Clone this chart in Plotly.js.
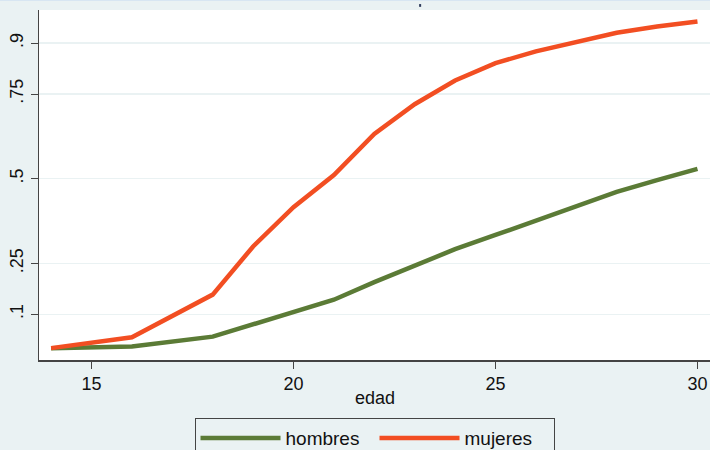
<!DOCTYPE html>
<html>
<head>
<meta charset="utf-8">
<script src="https://cdn.plot.ly/plotly-3.0.1.min.js"></script>
<style>
  html, body { margin: 0; padding: 0; background: #EAF2F3; }
  #chart { width: 710px; height: 450px; }
</style>
</head>
<body>
<div id="chart"></div>
<script>
// Data
const edad = [14, 16, 18, 19, 20, 21, 22, 23, 24, 25, 26, 27, 28, 29, 30];
const hombres = [0.0, 0.005, 0.034, 0.07, 0.104, 0.143, 0.195, 0.245, 0.292, 0.334, 0.377, 0.419, 0.461, 0.496, 0.529];
const mujeres = [0.0, 0.032, 0.158, 0.30, 0.416, 0.511, 0.632, 0.72, 0.79, 0.841, 0.876, 0.905, 0.931, 0.949, 0.964];
const seriesNames = ['hombres', 'mujeres'];
const yTickVals = [0.1, 0.25, 0.5, 0.75, 0.9];
const yTickText = ['.1', '.25', '.5', '.75', '.9'];
const xTickVals = [15, 20, 25, 30];
const xTitle = 'edad';

const FONT = 'Liberation Sans, Arial, Helvetica, sans-serif';

const traces = [
  {
    x: edad, y: hombres, name: seriesNames[0], type: 'scatter', mode: 'lines',
    line: { color: '#5B7B36', width: 4.5 }
  },
  {
    x: edad, y: mujeres, name: seriesNames[1], type: 'scatter', mode: 'lines',
    line: { color: '#F24E22', width: 4.5 }
  }
];

const layout = {
  width: 710, height: 450,
  margin: { l: 39, r: 0, t: 10, b: 90, pad: 0, autoexpand: false },
  paper_bgcolor: '#EAF2F3',
  plot_bgcolor: '#FFFFFF',
  font: { family: FONT, size: 18, color: '#111111' },
  showlegend: true,
  legend: {
    orientation: 'h',
    x: 0.5, xanchor: 'center',
    y: -0.166, yanchor: 'top',
    bgcolor: '#EAF2F3',
    bordercolor: '#444444', borderwidth: 1,
    font: { family: FONT, size: 19, color: '#111111' },
    entrywidth: 84,
    itemwidth: 80
  },
  xaxis: {
    range: [13.70, 30.31],
    tickvals: xTickVals,
    ticks: 'outside', ticklen: 7, tickwidth: 1, tickcolor: '#444444',
    showgrid: false, zeroline: false,
    showline: true, linecolor: '#444444', linewidth: 1.5,
    automargin: false,
    tickfont: { family: FONT, size: 18, color: '#111111' }
  },
  yaxis: {
    range: [-0.035, 0.998],
    tickvals: yTickVals,
    ticktext: yTickText,
    tickangle: -90,
    ticks: 'outside', ticklen: 7, tickwidth: 1, tickcolor: '#444444',
    showgrid: true, gridcolor: '#EAF2F3', gridwidth: 1.5,
    zeroline: false,
    showline: true, linecolor: '#444444', linewidth: 1.5,
    automargin: false,
    tickfont: { family: FONT, size: 18, color: '#111111' }
  },
  annotations: [
    { text: xTitle, xref: 'paper', yref: 'paper', x: 0.5, y: -0.108,
      xanchor: 'center', yanchor: 'middle', showarrow: false,
      font: { family: FONT, size: 18, color: '#111111' } }
  ],
  shapes: [
    { type: 'rect', xref: 'paper', yref: 'paper', x0: -0.06, x1: 1.0, y0: 1.0257, y1: 1.0286,
      fillcolor: '#D8E6F2', line: { width: 0 }, layer: 'below' },
    { type: 'rect', xref: 'paper', yref: 'paper', x0: 0.5665, x1: 0.5695, y0: 1.009, y1: 1.017,
      fillcolor: '#2E3B5C', line: { width: 0 } }
  ]
};

Plotly.newPlot('chart', traces, layout, { displayModeBar: false, staticPlot: true });
</script>
</body>
</html>
